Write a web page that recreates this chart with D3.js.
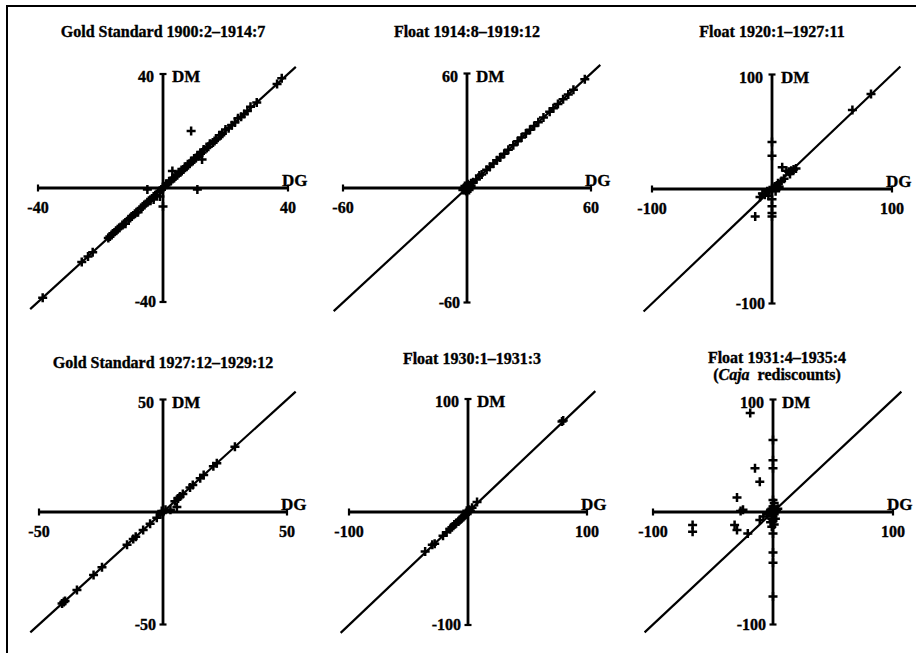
<!DOCTYPE html>
<html><head><meta charset="utf-8">
<script src="https://cdn.jsdelivr.net/npm/d3@7"></script>
<style>body{margin:0;background:#fff}svg{display:block}text{font-family:"Liberation Serif","Times New Roman",serif;font-weight:bold;fill:#000;stroke:#000;stroke-width:0.35}</style>
</head><body><svg id="c" width="916" height="653"></svg>
<script>
const titles = ["Gold Standard 1900:2\u20131914:7","Float 1914:8\u20131919:12","Float 1920:1\u20131927:11",
  "Gold Standard 1927:12\u20131929:12","Float 1930:1\u20131931:3","Float 1931:4\u20131935:4"];
const axisMax = [40,60,100,50,100,100];
const diagExtent = [42.5,64.5,107,53.5,107,107];

const p1 = [[-38.5,-38.5],[-26,-26],[-24,-24],[-22.5,-22.5],[-17.5,-17.5],[-17,-17],[-16.5,-16.5],[-16,-16],[-15,-15],[-14.5,-14.5],[-14,-14],[-13,-13],[-12.5,-12.5],[-12,-12.5],[-11,-11],[-10.5,-10.5],[-10,-10],[-9,-9],[-8.5,-8.5],[-8,-8.5],[-7,-7],[-6.5,-6.5],[-6,-6],[-5,-5],[-4.5,-4.5],[-4,-4.5],[-3,-3],[-2.5,-2.5],[-2,-2.5],[-1,-1],[-0.5,-0.5],[0,0],[0.5,0.5],[1,1.5],[1.5,1.5],[2,2],[2.5,2.5],[3,3.5],[3.5,3.5],[4,4],[4.5,4.5],[5,5.5],[5.5,5.5],[6,6],[6.5,6.5],[7,7.5],[7.5,7.5],[8,8],[8.5,8.5],[9,9.5],[9.5,9.5],[10,10],[10.5,10.5],[11,11.5],[11.5,11.5],[12,12],[12.5,12.5],[13,13.5],[14,14],[14.5,14.5],[15,15.5],[16,16],[16.5,16.5],[17,17],[18,18.5],[18.5,18.5],[19,19],[20,20.5],[21,21],[22,22],[23,23],[24,24.5],[25,25],[26,26],[27,27],[28,28.5],[30,30],[36.5,36.5],[38,38.5],
  [9,20],[12.5,10],[11,-0.5],[3,6],[0,-6.5],[-5,-0.5],[-3,-4],[-1,-3]];
const p2 = [[0,0],[1,1],[-1,-1],[1,-1],[-1,1],[2,1],[0.5,2],[-1.5,0],[2,2.5],[1.5,0],[0,-2],[-2,-1],[0,1.5],[-0.5,-1.5],[3,3],[4.5,4.5],[6,6.5],[7.1,7.1],[9.5,9.5],[11,11],[12.8,12.8],[14.5,14.5],[16,16],[18,18],[20,20],[22.4,22.4],[24.5,24.5],[26.4,26.4],[28.5,28.5],[30.5,30.5],[32.5,32.5],[34.5,34.5],[37,37],[40,40],[41.8,41.8],[44,44],[46.5,46.5],[49,49],[51.5,51.5],[57,57]];
const p3 = [[67,69],[82.5,83],[0,41],[0,29],[0,-9],[0,-15],[0,-21],[0,-24],[-14,-24],[8.5,19],[12,16],[14,15],[16,16],[18,17],[15,13],[20,18],[-10,-7],[-8,-4],[-6,-5],[-4,-2],[-2,-1],[0,0],[2,1],[4,3],[6,2],[3,-2],[-3,-6],[5,5],[8,7],[10,9]];
const p4 = [[-40.7,-40.7],[-40,-40],[-39.5,-39.5],[-34.7,-34.7],[-28,-28],[-24.6,-24.6],[-14.5,-14.5],[-12,-12],[-11,-11],[-8,-8],[-5.2,-5.2],[-2.5,-2.5],[-1,-1],[0,0],[1,1],[-0.5,0.5],[4.8,4.8],[6,6],[6.9,6.9],[8,8],[10.9,10.9],[12,12],[15,15],[16.4,16.4],[20.3,20.3],[21.7,21.7],[29,29],[5.6,2.2],[3,1]];
const p5 = [[80,81],[79,80],[7.6,8.8],[3.4,3.8],[2,1],[0,0],[-1,-1],[-2,-2.5],[-3,-3],[-4,-4.5],[-5,-5],[-6,-6.5],[-7,-7],[-8,-8.5],[-10,-10],[-11.5,-11],[-13.5,-13.5],[-15,-15],[-18,-18],[-21,-21],[-28,-28],[-30,-29],[-36,-35],[1,2],[-1,1]];
const p6 = [[0,64],[0,46],[0,39],[0,10.6],[1,8],[0,5],[-1,3],[0,1],[1,-2],[0,-4],[-1,-6],[0,-8],[1,-11],[0,-19],[0,-36],[0,-45],[0,-75],[2,0],[-2,2],[2,-6],[-2,-9],[3,2],[-1,-13],
  [-19,88],[-15,39],[-11,27],[-30,13],[-25,2],[-27,1],[-67,-11.5],[-67,-17.5],[-32,-11.5],[-30,-16],[-21,-19],[-11,-7],[-8,-4],[-5,-2],[4,3]];
const points = [p1,p2,p3,p4,p5,p6];

// layout: center and half-size of each panel in pixels
const layout = [
  {cx:163,cy:188,hw:125,hh:114,ty:37},
  {cx:467,cy:188,hw:124,hh:114.5,ty:37},
  {cx:772,cy:189,hw:120,hh:114.5,ty:37},
  {cx:163,cy:512,hw:124,hh:112.5,ty:368},
  {cx:468,cy:512,hw:119,hh:113,ty:364},
  {cx:773,cy:512,hw:120,hh:112.5,ty:363}
];

const svg = d3.select("#c");
svg.append("path").attr("d","M7,653V6H916").attr("fill","none").attr("stroke","#000").attr("stroke-width",2);

layout.forEach((L,i)=>{
  const M = axisMax[i];
  const x = d3.scaleLinear().domain([-M,M]).range([L.cx-L.hw,L.cx+L.hw]);
  const y = d3.scaleLinear().domain([-M,M]).range([L.cy+L.hh,L.cy-L.hh]);
  const g = svg.append("g");
  const tx = (i>=4) ? L.cx+4 : L.cx;
  g.append("text").attr("x",tx).attr("y",L.ty).attr("text-anchor","middle").attr("font-size",16).text(titles[i]);
  if(i===5){
    const t2 = g.append("text").attr("x",tx).attr("y",L.ty+17).attr("text-anchor","middle").attr("font-size",16);
    t2.append("tspan").text("(");
    t2.append("tspan").attr("font-style","italic").text("Caja");
    t2.append("tspan").text("\u00a0\u00a0rediscounts)");
  }
  const sw = 2.8;
  g.append("line").attr("x1",x(-M)).attr("x2",x(M)).attr("y1",y(0)).attr("y2",y(0)).attr("stroke","#000").attr("stroke-width",sw);
  g.append("line").attr("x1",x(0)).attr("x2",x(0)).attr("y1",y(-M)).attr("y2",y(M)).attr("stroke","#000").attr("stroke-width",sw);
  [-M,M].forEach(v=>{
    g.append("line").attr("x1",x(v)).attr("x2",x(v)).attr("y1",y(0)-3.5).attr("y2",y(0)+3.5).attr("stroke","#000").attr("stroke-width",2.2);
    g.append("line").attr("y1",y(v)).attr("y2",y(v)).attr("x1",x(0)-3.5).attr("x2",x(0)+3.5).attr("stroke","#000").attr("stroke-width",2.2);
  });
  g.append("text").attr("x",x(-M)).attr("y",y(0)+25).attr("text-anchor","middle").attr("font-size",16).text("-"+M);
  g.append("text").attr("x",x(M)).attr("y",y(0)+25).attr("text-anchor","middle").attr("font-size",16).text(M);
  g.append("text").attr("x",x(0)-9).attr("y",y(M)+8).attr("text-anchor","end").attr("font-size",16).text(M);
  g.append("text").attr("x",x(0)-7).attr("y",y(-M)+5).attr("text-anchor","end").attr("font-size",16).text("-"+M);
  g.append("text").attr("x",x(0)+9).attr("y",y(M)+8).attr("font-size",17).text("DM");
  g.append("text").attr("x",x(M)-6).attr("y",y(0)-2).attr("font-size",17).text("DG");
  const E = diagExtent[i];
  g.append("line").attr("x1",x(-E)).attr("y1",y(-E)).attr("x2",x(E)).attr("y2",y(E)).attr("stroke","#000").attr("stroke-width",2.2);
  const s = 4.5;
  g.selectAll("path.m").data(points[i]).join("path").attr("class","m")
    .attr("d",d=>{const px=x(d[0]),py=y(d[1]);return `M${px-s},${py}H${px+s}M${px},${py-s}V${py+s}`;})
    .attr("stroke","#000").attr("stroke-width",2.5).attr("fill","none");
});
</script></body></html>
